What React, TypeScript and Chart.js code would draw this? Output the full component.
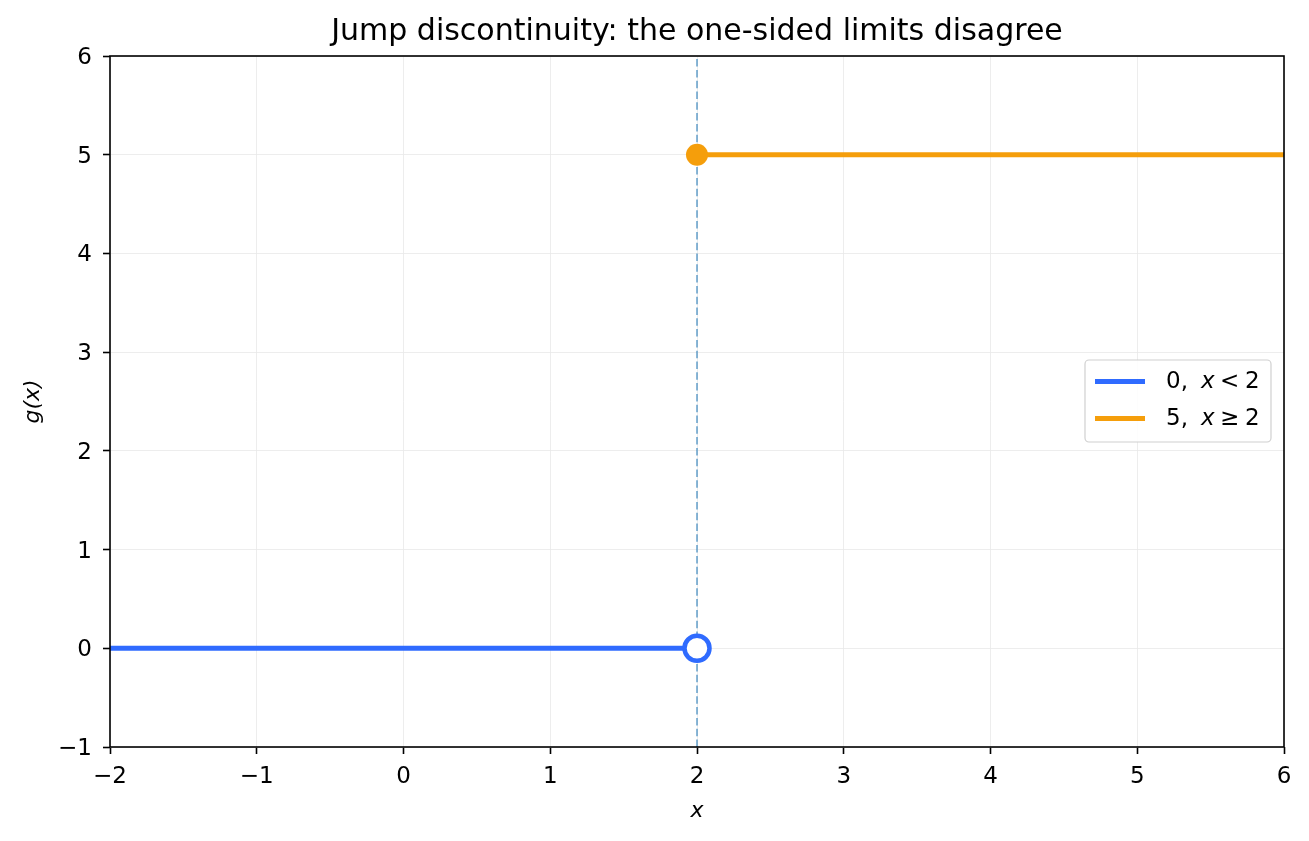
import { useEffect, useRef } from "react";
import { Chart, registerables } from "chart.js";

Chart.register(...registerables);

// data
const leftX = [-2, 2];
const leftY = [0, 0];
const rightX = [2, 6];
const rightY = [5, 5];
const jumpX = 2;
const jumpYRange = [-1, 6];
const openPoint = { x: 2, y: 0 };
const closedPoint = { x: 2, y: 5 };
const legendLabels = [
  { value: "0,", rel: "<", bound: "2", color: "#2f6bff" },
  { value: "5,", rel: "\u2265", bound: "2", color: "#f59e0b" },
];
const titleText = "Jump discontinuity: the one-sided limits disagree";

const FONT = "'DejaVu Sans', sans-serif";
const BLUE = "#2f6bff";
const ORANGE = "#f59e0b";

const framePlugin = {
  id: "frameAndExtras",
  afterDraw(chart: any) {
    const { ctx, chartArea } = chart;
    const { left, top, right, bottom } = chartArea;
    ctx.save();
    ctx.strokeStyle = "#000";
    ctx.lineWidth = 1.6;
    ctx.strokeRect(left, top, right - left, bottom - top);

    // title
    ctx.fillStyle = "#000";
    ctx.font = `30px ${FONT}`;
    ctx.textAlign = "center";
    ctx.textBaseline = "middle";
    ctx.fillText(titleText, (left + right) / 2, 32);

    // legend
    const bx = 1085, by = 360, bw = 186, bh = 82;
    ctx.beginPath();
    ctx.roundRect(bx, by, bw, bh, 4);
    ctx.fillStyle = "rgba(255,255,255,0.85)";
    ctx.fill();
    ctx.strokeStyle = "#d0d0d0";
    ctx.lineWidth = 1.2;
    ctx.stroke();
    legendLabels.forEach((l, i) => {
      const y = 381.5 + i * 37;
      ctx.strokeStyle = l.color;
      ctx.lineWidth = 5;
      ctx.beginPath();
      ctx.moveTo(1095, y);
      ctx.lineTo(1145, y);
      ctx.stroke();
      ctx.fillStyle = "#000";
      ctx.textAlign = "left";
      ctx.textBaseline = "middle";
      ctx.font = `23px ${FONT}`;
      ctx.fillText(l.value, 1166, y + 1);
      ctx.font = `italic 23px ${FONT}`;
      ctx.fillText("x", 1201, y + 1);
      ctx.font = `23px ${FONT}`;
      ctx.fillText(l.rel, 1220, y + 1);
      ctx.fillText(l.bound, 1245, y + 1);
    });
    ctx.restore();
  },
};

const minusFix = (v: any) => String(v).replace("-", "\u2212");

export default function App() {
  const canvasRef = useRef<HTMLCanvasElement | null>(null);
  const chartRef = useRef<Chart | null>(null);

  useEffect(() => {
    document.body.style.margin = "0";
    const canvas = canvasRef.current;
    if (!canvas) return;
    if (chartRef.current) chartRef.current.destroy();

    chartRef.current = new Chart(canvas, {
      type: "scatter",
      data: {
        datasets: [
          {
            label: "open",
            data: [openPoint],
            pointRadius: 12.5,
            pointBorderWidth: 4.5,
            pointBackgroundColor: "#ffffff",
            pointBorderColor: BLUE,
            order: 0,
          },
          {
            label: "closed",
            data: [closedPoint],
            pointRadius: 11,
            pointBorderWidth: 0,
            pointBackgroundColor: ORANGE,
            order: 0,
          },
          {
            label: "0, x < 2",
            data: leftX.map((x, i) => ({ x, y: leftY[i] })),
            showLine: true,
            borderColor: BLUE,
            borderWidth: 5,
            pointRadius: 0,
            order: 1,
          },
          {
            label: "5, x ≥ 2",
            data: rightX.map((x, i) => ({ x, y: rightY[i] })),
            showLine: true,
            borderColor: ORANGE,
            borderWidth: 5,
            pointRadius: 0,
            order: 1,
          },
          {
            label: "jump",
            data: jumpYRange.map((y) => ({ x: jumpX, y })),
            showLine: true,
            borderColor: "rgba(31,119,180,0.65)",
            borderWidth: 1.6,
            borderDash: [7.5, 3.3],
            pointRadius: 0,
            order: 2,
          },
        ],
      },
      options: {
        responsive: false,
        animation: false,
        layout: { padding: { top: 56, right: 25, left: 0, bottom: 0 } },
        plugins: {
          legend: { display: false },
          tooltip: { enabled: false },
        },
        scales: {
          x: {
            type: "linear",
            min: -2,
            max: 6,
            afterFit: (s: any) => {
              s.height = 94;
            },
            ticks: {
              stepSize: 1,
              color: "#000",
              font: { family: FONT, size: 23 },
              padding: 9,
              callback: minusFix,
            },
            grid: {
              color: "#e8e8e8",
              lineWidth: 0.8,
              tickColor: "#000",
              tickLength: 7,
              tickWidth: 1.6,
            },
            border: { display: false },
            title: {
              display: true,
              text: "x",
              color: "#000",
              font: { family: FONT, size: 22, style: "italic" },
              padding: { top: 0, bottom: 17 },
            },
          },
          y: {
            type: "linear",
            min: -1,
            max: 6,
            afterFit: (s: any) => {
              s.width = 110;
            },
            ticks: {
              stepSize: 1,
              color: "#000",
              font: { family: FONT, size: 23 },
              padding: 11,
              labelOffset: 2,
              callback: minusFix,
            },
            grid: {
              color: "#e8e8e8",
              lineWidth: 0.8,
              tickColor: "#000",
              tickLength: 7,
              tickWidth: 1.6,
            },
            border: { display: false },
            title: {
              display: true,
              text: "g(x)",
              color: "#000",
              font: { family: FONT, size: 22, style: "italic" },
              padding: { top: 20, bottom: 0 },
            },
          },
        },
      },
      plugins: [framePlugin],
    });

    return () => {
      chartRef.current?.destroy();
      chartRef.current = null;
    };
  }, []);

  return (
    <div style={{ width: 1309, height: 841, background: "#fff" }}>
      <canvas ref={canvasRef} width={1309} height={841} />
    </div>
  );
}
